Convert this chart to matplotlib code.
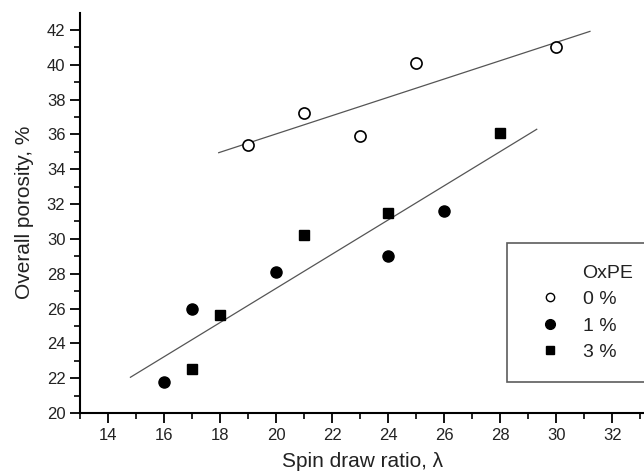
import numpy as np
import matplotlib
matplotlib.use('Agg')
import matplotlib.pyplot as plt
from matplotlib.lines import Line2D

plt.rcParams['font.family'] = ['Liberation Sans', 'DejaVu Sans']

# 0 % OxPE
x_0 = [19, 21, 23, 25, 30]
y_0 = [35.4, 37.2, 35.9, 40.1, 41.0]
# 1 % OxPE
x_1 = [16, 17, 20, 24, 26]
y_1 = [21.8, 26.0, 28.1, 29.0, 31.6]
# 3 % OxPE
x_3 = [17, 18, 21, 24, 28]
y_3 = [22.5, 25.6, 30.2, 31.5, 36.1]

# x extent of the two fitted lines
fit_0_range = [17.95, 31.2]
fit_13_range = [14.8, 29.3]

legend_title = 'OxPE'
labels = ['0 %', '1 %', '3 %']

fig = plt.figure(figsize=(6.44, 4.73), dpi=100)
ax = fig.add_axes([80 / 644, 1 - 413 / 473, 566 / 644, 400.5 / 473])

# linear fits
k0, b0 = np.polyfit(x_0, y_0, 1)
xs = np.array(fit_0_range)
ax.plot(xs, k0 * xs + b0, color='#555555', lw=0.9)

k1, b1 = np.polyfit(x_1 + x_3, y_1 + y_3, 1)
xs = np.array(fit_13_range)
ax.plot(xs, k1 * xs + b1, color='#555555', lw=0.9)

ax.plot(x_0, y_0, 'o', ms=8, mfc='white', mec='black', mew=1.2, ls='none')
ax.plot(x_1, y_1, 'o', ms=8, mfc='black', mec='black', ls='none')
ax.plot(x_3, y_3, 's', ms=7.5, mfc='black', mec='black', ls='none')

ax.set_xlim(13, 33.2)
ax.set_ylim(20, 43)
ax.set_xticks(np.arange(14, 33, 2))
ax.set_xticks(np.arange(13, 34, 1), minor=True)
ax.set_yticks(np.arange(20, 43, 2))
ax.set_yticks(np.arange(21, 43, 1), minor=True)
ax.spines[['top', 'right']].set_visible(False)
ax.spines[['left', 'bottom']].set_linewidth(1.5)
ax.tick_params(which='major', direction='out', length=7, width=1.3,
               labelsize=12, colors='black', labelcolor='#222222')
ax.tick_params(which='minor', direction='out', length=4, width=1.2)

ax.set_xlabel('Spin draw ratio, \u03bb', fontsize=15, color='#222222', labelpad=7)
ax.set_ylabel('Overall porosity, %', fontsize=15, color='#222222', labelpad=9)

handles = [
    Line2D([], [], ls='none', marker=None),
    Line2D([], [], ls='none', marker='o', ms=6, mfc='white', mec='black'),
    Line2D([], [], ls='none', marker='o', ms=7, mfc='black', mec='black'),
    Line2D([], [], ls='none', marker='s', ms=6, mfc='black', mec='black'),
]
leg = ax.legend(handles, [legend_title] + labels, loc='upper left',
                bbox_to_anchor=(0.754, 0.0, 0.3, 0.425), mode='expand',
                frameon=True, fancybox=False,
                edgecolor='#333333', fontsize=14, handlelength=2.2,
                handletextpad=0.6, labelspacing=0.45, borderpad=1.1,
                borderaxespad=0)
leg.get_frame().set_linewidth(1.2)
for t in leg.get_texts():
    t.set_color('#222222')

fig.savefig('out.png', dpi=100)
